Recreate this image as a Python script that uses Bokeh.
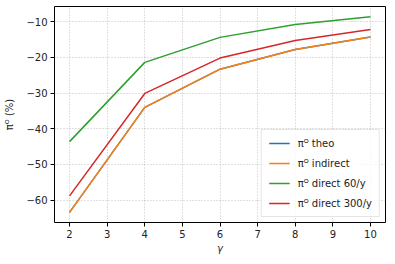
from bokeh.plotting import figure
from bokeh.models import FixedTicker, Range1d, Legend, LegendItem
from bokeh.embed import file_html
from bokeh.resources import INLINE

gamma = [2, 4, 6, 8, 10]
theo = [-63.4, -34.0, -23.3, -17.8, -14.3]
indirect = [-63.4, -34.0, -23.3, -17.8, -14.3]
direct60 = [-43.6, -21.4, -14.4, -10.8, -8.6]
direct300 = [-58.8, -30.1, -20.2, -15.3, -12.2]
labels = ["\u03c0\u1d3c theo", "\u03c0\u1d3c indirect", "\u03c0\u1d3c direct 60/y", "\u03c0\u1d3c direct 300/y"]
colors = ["#1f77b4", "#ff7f0e", "#2ca02c", "#d62728"]
series = [theo, indirect, direct60, direct300]
xticks = [2, 3, 4, 5, 6, 7, 8, 9, 10]
yticks = [-60, -50, -40, -30, -20, -10]

p = figure(width=387, height=256, output_backend="svg", toolbar_location=None,
           x_range=Range1d(1.6, 10.4), y_range=Range1d(-66.25, -5.75),
           min_border_left=54, min_border_right=2, min_border_top=6, min_border_bottom=32)
p.background_fill_color = "white"
p.border_fill_color = "white"
p.outline_line_color = "black"
p.outline_line_width = 1

items = []
for ys, c, lab in zip(series, colors, labels):
    r = p.line(gamma, ys, line_color=c, line_width=1.5)
    items.append(LegendItem(label=lab, renderers=[r]))

legend = Legend(items=items, location="bottom_right")
legend.label_text_font = "DejaVu Sans"
legend.label_text_font_size = "10px"
legend.label_text_color = "#222222"
legend.glyph_width = 21
legend.glyph_height = 12
legend.label_standoff = 8
legend.spacing = 8
legend.padding = 7
legend.margin = 5
legend.border_line_color = "#cccccc"
legend.border_line_width = 1
legend.background_fill_alpha = 0.8
p.add_layout(legend)

for ax in (p.xaxis[0], p.yaxis[0]):
    ax.axis_line_color = None
    ax.major_tick_line_color = "black"
    ax.major_tick_out = 4
    ax.major_tick_in = 0
    ax.minor_tick_line_color = None
    ax.major_label_standoff = 3
    ax.major_label_text_font = "DejaVu Sans"
    ax.major_label_text_font_size = "10px"
    ax.major_label_text_color = "#222222"
    ax.axis_label_text_font = "DejaVu Sans"
    ax.axis_label_text_font_size = "10px"
    ax.axis_label_text_color = "#222222"
    ax.axis_label_text_font_style = "normal"

p.xaxis.ticker = FixedTicker(ticks=xticks)
p.yaxis.ticker = FixedTicker(ticks=yticks)
p.yaxis.major_label_overrides = {v: "\u2212" + str(-v) for v in yticks}
p.xaxis.axis_label = "\u03b3"
p.xaxis.axis_label_text_font_style = "italic"
p.xaxis.axis_label_standoff = 2
p.yaxis.axis_label = "\u03c0\u1d3c (%)"
p.yaxis.axis_label_standoff = 8

for g in (p.xgrid[0], p.ygrid[0]):
    g.grid_line_color = "#b0b0b0"
    g.grid_line_dash = "1 2"
    g.grid_line_width = 0.8

open("out.html", "w").write(file_html(p, INLINE))
